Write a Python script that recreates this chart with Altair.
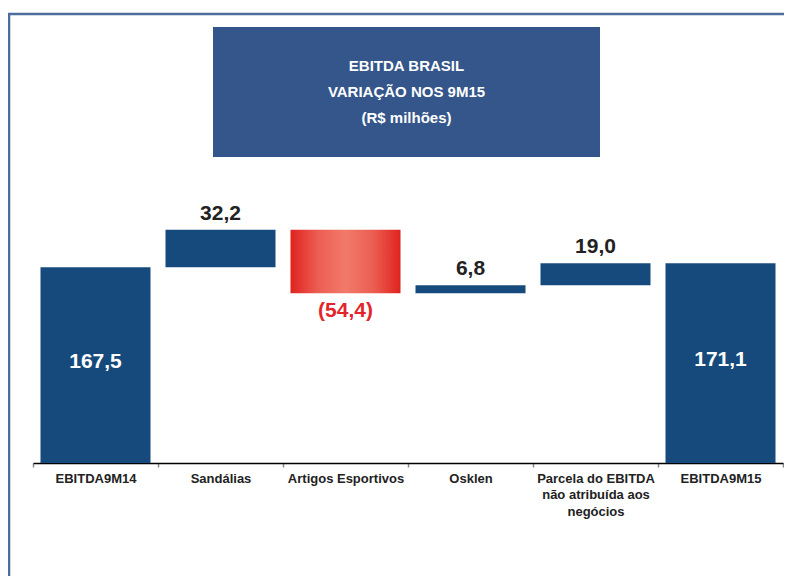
import altair as alt
import pandas as pd

categories = ["EBITDA9M14", "Sandálias", "Artigos Esportivos", "Osklen",
              "Parcela do EBITDA|não atribuída aos|negócios", "EBITDA9M15"]
values = [167.5, 32.2, -54.4, 6.8, 19.0, 171.1]
kinds = ["total", "delta", "delta", "delta", "delta", "total"]
title_lines = ["EBITDA BRASIL", "VARIAÇÃO NOS 9M15", "(R$ milhões)"]

rows = []
running = 0.0
for c, v, k in zip(categories, values, kinds):
    if k == "total":
        start, end = 0.0, v
    else:
        start, end = running, running + v
    running = end
    txt = f"{abs(v):.1f}".replace(".", ",")
    if v < 0:
        txt = f"({txt})"
    rows.append(dict(cat=c, value=v, kind=k, low=min(start, end), high=max(start, end),
                     mid=(start + end) / 2, label=txt))
df = pd.DataFrame(rows)

FONT = "Liberation Sans"
BLUE = "#174a7c"

xenc = alt.X("cat:N", sort=categories, scale=alt.Scale(paddingInner=0, paddingOuter=0),
             axis=alt.Axis(title=None, labelAngle=0, labelFont=FONT, labelFontSize=13,
                           labelFontWeight="bold", labelColor="#222222",
                           labelExpr="split(datum.label, '|')", labelLineHeight=16.5,
                           labelPadding=5, tickBand="extent", tickSize=4, tickColor="#888888",
                           tickWidth=1.5, domainColor="#000000", domainWidth=1.3,
                           labelLimit=300, grid=False))
yscale = alt.Scale(domain=[0, 250], nice=False)

base = alt.Chart(df).encode(x=xenc)

blue_bars = base.transform_filter("datum.value >= 0").mark_bar(
    color=BLUE, width=alt.RelativeBandSize(0.88)
).encode(y=alt.Y("low:Q", scale=yscale, axis=None), y2="high:Q")

red_bars = base.transform_filter("datum.value < 0").mark_bar(
    width=alt.RelativeBandSize(0.88),
    color=alt.Gradient(gradient="linear", x1=0, x2=1, y1=0, y2=0, stops=[
        alt.GradientStop(offset=0, color="#e0231f"),
        alt.GradientStop(offset=0.25, color="#eb5e52"),
        alt.GradientStop(offset=0.5, color="#f27a6b"),
        alt.GradientStop(offset=0.75, color="#eb5e52"),
        alt.GradientStop(offset=1, color="#e0231f"),
    ])
).encode(y=alt.Y("low:Q", scale=yscale, axis=None), y2="high:Q")

total_txt = base.transform_filter("datum.kind == 'total'").mark_text(
    font=FONT, fontSize=21, fontWeight="bold", color="white", baseline="middle", dy=-3
).encode(y=alt.Y("mid:Q", scale=yscale, axis=None), text="label:N")

pos_txt = base.transform_filter("datum.kind == 'delta' && datum.value > 0").mark_text(
    font=FONT, fontSize=21, fontWeight="bold", color="#222222", baseline="middle", dy=-16
).encode(y=alt.Y("high:Q", scale=yscale, axis=None), text="label:N")

neg_txt = base.transform_filter("datum.value < 0").mark_text(
    font=FONT, fontSize=21, fontWeight="bold", color="#e3242b", baseline="middle", dy=18
).encode(y=alt.Y("low:Q", scale=yscale, axis=None), text="label:N")

deco = alt.Chart(pd.DataFrame({"t": [" | ".join(title_lines)]}))

frame_top = deco.mark_rule(color="#4d6d9c", strokeWidth=2.5).encode(
    x=alt.value(-25), x2=alt.value(760), y=alt.value(-157))
frame_left = deco.mark_rule(color="#4d6d9c", strokeWidth=2.5).encode(
    x=alt.value(-24), y=alt.value(-157), y2=alt.value(420))
title_box = deco.mark_rect(color="#34568a").encode(
    x=alt.value(180), x2=alt.value(567), y=alt.value(-144), y2=alt.value(-14))
title_txt = deco.mark_text(font=FONT, fontSize=15, fontWeight="bold", color="white",
                           baseline="middle", align="center", lineHeight=26).encode(
    x=alt.value(373.5), y=alt.value(-105), text=alt.value(title_lines))

chart = alt.layer(
    frame_top, frame_left, title_box, title_txt,
    blue_bars, red_bars, total_txt, pos_txt, neg_txt
).properties(
    width=750, height=292,
    background="white",
    autosize=alt.AutoSizeParams(type="none"),
    padding={"left": 25, "top": 163, "right": 1, "bottom": 113},
).configure_view(strokeOpacity=0, strokeWidth=0)

chart.save("out.html", embed_options={"renderer": "svg", "actions": False})
